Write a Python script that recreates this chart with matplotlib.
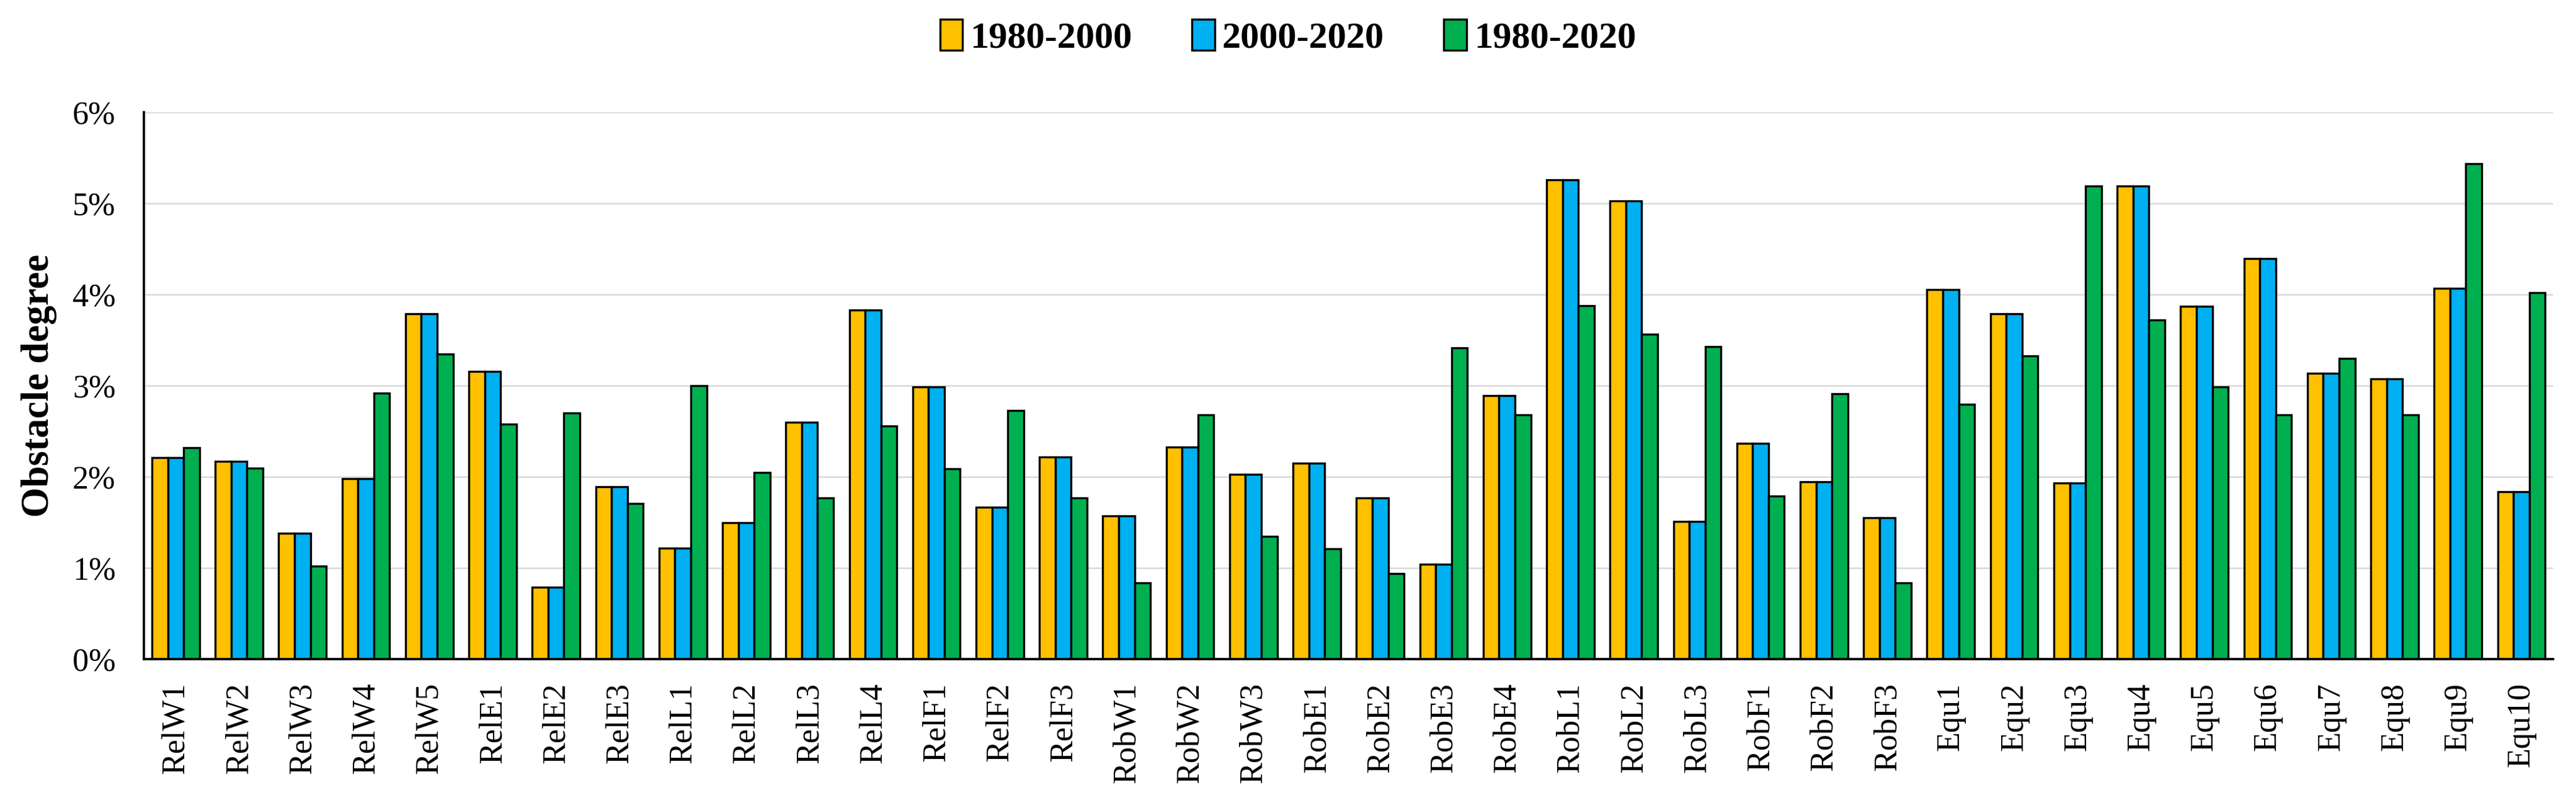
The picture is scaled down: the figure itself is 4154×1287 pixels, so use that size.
import matplotlib.pyplot as plt
import numpy as np
from matplotlib.ticker import FuncFormatter

categories = [
    "RelW1", "RelW2", "RelW3", "RelW4", "RelW5", "RelE1", "RelE2", "RelE3",
    "RelL1", "RelL2", "RelL3", "RelL4", "RelF1", "RelF2", "RelF3",
    "RobW1", "RobW2", "RobW3", "RobE1", "RobE2", "RobE3", "RobE4",
    "RobL1", "RobL2", "RobL3", "RobF1", "RobF2", "RobF3",
    "Equ1", "Equ2", "Equ3", "Equ4", "Equ5", "Equ6", "Equ7", "Equ8", "Equ9", "Equ10",
]

# obstacle degree in %
p1980_2000 = [
    2.21, 2.17, 1.38, 1.98, 3.79, 3.16, 0.79, 1.89,
    1.22, 1.50, 2.60, 3.83, 2.99, 1.67, 2.22,
    1.57, 2.33, 2.03, 2.15, 1.77, 1.04, 2.89,
    5.26, 5.03, 1.51, 2.37, 1.95, 1.55,
    4.06, 3.79, 1.93, 5.19, 3.87, 4.40, 3.14, 3.08, 4.07, 1.84,
]
p2000_2020 = [
    2.21, 2.17, 1.38, 1.98, 3.79, 3.16, 0.79, 1.89,
    1.22, 1.50, 2.60, 3.83, 2.99, 1.67, 2.22,
    1.57, 2.33, 2.03, 2.15, 1.77, 1.04, 2.89,
    5.26, 5.03, 1.51, 2.37, 1.95, 1.55,
    4.06, 3.79, 1.93, 5.19, 3.87, 4.40, 3.14, 3.08, 4.07, 1.84,
]
p1980_2020 = [
    2.32, 2.10, 1.02, 2.92, 3.35, 2.58, 2.70, 1.71,
    3.00, 2.05, 1.77, 2.56, 2.09, 2.73, 1.77,
    0.84, 2.68, 1.35, 1.21, 0.94, 3.42, 2.68,
    3.88, 3.57, 3.43, 1.79, 2.91, 0.84,
    2.80, 3.33, 5.19, 3.72, 2.99, 2.68, 3.30, 2.68, 5.44, 4.02,
]

series = [
    ("1980-2000", p1980_2000, "#FFC000"),
    ("2000-2020", p2000_2020, "#00B0F0"),
    ("1980-2020", p1980_2020, "#00B050"),
]

plt.rcParams["font.family"] = ["Liberation Serif", "DejaVu Serif"]

fig = plt.figure(figsize=(4154 / 300, 1287 / 300), dpi=300)
ax = fig.add_axes([0.0559, 0.174, 0.9352, 0.685])

x = np.arange(len(categories))
width = 0.25
for i, (label, values, color) in enumerate(series):
    ax.bar(x + (i - 1) * width, values, width, color=color, edgecolor="black",
           linewidth=0.8, label=label, zorder=3)

ax.set_xlim(-0.5, len(categories) - 0.5)
ax.set_ylim(0, 6)
ax.set_yticks(range(0, 7))
ax.yaxis.set_major_formatter(FuncFormatter(lambda v, _: f"{v:.0f}%"))
ax.set_xticks(x)
ax.set_xticklabels(categories, rotation=90)
ax.tick_params(axis="both", length=0, labelsize=12.5)
ax.tick_params(axis="x", pad=9)
ax.tick_params(axis="y", pad=11)

ax.grid(axis="y", color="#d9d9d9", linewidth=0.6, zorder=0)
for side in ("top", "right"):
    ax.spines[side].set_visible(False)
for side in ("left", "bottom"):
    ax.spines[side].set_linewidth(0.9)
    ax.spines[side].set_zorder(4)

ax.set_ylabel("Obstacle degree", fontsize=15, fontweight="bold", labelpad=6)

fig.legend(loc="center", bbox_to_anchor=(0.5, 0.953), ncol=3, frameon=False,
           prop={"size": 14.5, "weight": "bold"}, handlelength=0.6, handleheight=0.9,
           handletextpad=0.2, columnspacing=1.6)

fig.savefig("out.png", dpi=300)
